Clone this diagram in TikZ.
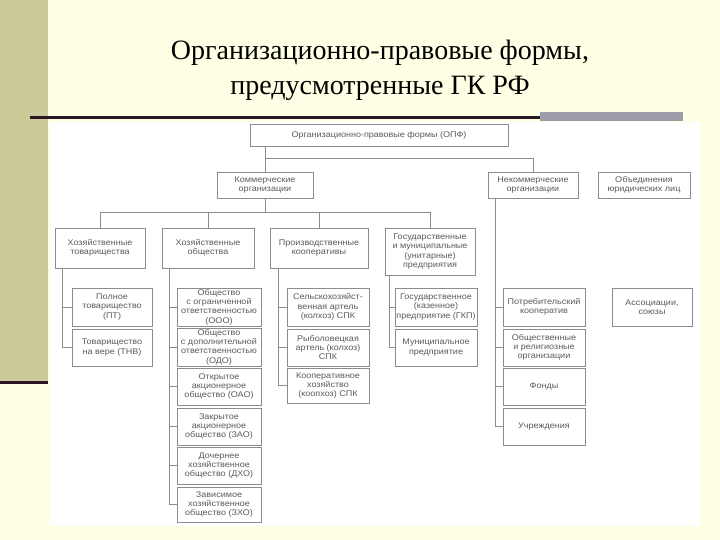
\documentclass[tikz,border=0pt]{standalone}
\usepackage{fontspec}
\setmainfont{Liberation Serif}
\newfontfamily\lsans[FakeStretch=1.1]{Liberation Sans}
\definecolor{bg}{HTML}{FFFFE6}
\definecolor{olivec}{HTML}{CBCB99}
\definecolor{darkl}{HTML}{2A1522}
\definecolor{barg}{HTML}{9C9CAA}
\definecolor{boxc}{HTML}{8C8C8C}
\definecolor{txt}{HTML}{5A5A5A}
\begin{document}
\begin{tikzpicture}[x=1pt,y=-1pt,
  bx/.style 2 args={draw=boxc, line width=0.5pt, fill=white, align=center,
    font=\lsans\fontsize{8.2}{9.3}\selectfont, text=txt, inner sep=0.5pt,
    minimum width=#1pt, minimum height=#2pt},
  cn/.style={draw=boxc, line width=0.6pt},
  ttl/.style={align=center, font=\fontsize{28}{35}\selectfont, text=black}]
\useasboundingbox (0,0) rectangle (720,540);
% background
\fill[bg] (0,0) rectangle (720,540);
\fill[olivec] (0,0) rectangle (48,382);
\draw[darkl, line width=3pt] (0,382) -- (48,382);
\fill[white] (50,122) rectangle (700,526);
\draw[darkl, line width=3pt] (30,118) -- (545,118);
\fill[barg] (540,112) rectangle (683,121);
% title
\node[ttl] (title) at (380,70) {Организационно-правовые формы,\\предусмотренные ГК РФ};
% level 1-2
\node[bx={258}{22}] (opf) at (379,135) {Организационно-правовые формы (ОПФ)};
\node[bx={96}{26}] (kom) at (265,185) {Коммерческие\\организации};
\node[bx={90}{26}] (nekom) at (533,185) {Некоммерческие\\организации};
\node[bx={92}{26}] (obj) at (644,185) {Объединения\\юридических лиц};
% level 3
\node[bx={90}{40}] (ht) at (100,248) {Хозяйственные\\товарищества};
\node[bx={92}{40}] (ho) at (208,248) {Хозяйственные\\общества};
\node[bx={98}{40}] (pk) at (319,248) {Производственные\\кооперативы};
\node[bx={90}{47}] (gm) at (430,251.5) {Государственные\\и муниципальные\\(унитарные)\\предприятия};
% level 4
\node[bx={80}{38}] (pt) at (112,307) {Полное\\товарищество\\(ПТ)};
\node[bx={80}{37}] (tnv) at (112,347.5) {Товарищество\\на вере (ТНВ)};
\node[bx={84}{38}] (ooo) at (219,307) {Общество\\с ограниченной\\ответственностью\\(ООО)};
\node[bx={84}{38}] (odo) at (219,347) {Общество\\с дополнительной\\ответственностью\\(ОДО)};
\node[bx={84}{37}] (oao) at (219,386.5) {Открытое\\акционерное\\общество (ОАО)};
\node[bx={84}{37}] (zao) at (219,426.5) {Закрытое\\акционерное\\общество (ЗАО)};
\node[bx={84}{37}] (dho) at (219,465.5) {Дочернее\\хозяйственное\\общество (ДХО)};
\node[bx={84}{35}] (zho) at (219,504.5) {Зависимое\\хозяйственное\\общество (ЗХО)};
\node[bx={82}{38}] (spk) at (328,307) {Сельскохозяйст-\\венная артель\\(колхоз) СПК};
\node[bx={82}{37}] (rpk) at (328,347.5) {Рыболовецкая\\артель (колхоз)\\СПК};
\node[bx={82}{35}] (skh) at (328,385.5) {Кооперативное\\хозяйство\\(коопхоз) СПК};
\node[bx={82}{38}] (gkp) at (436,307) {Государственное\\(казенное)\\предприятие (ГКП)};
\node[bx={82}{37}] (mp) at (436,347.5) {Муниципальное\\предприятие};
\node[bx={82}{38}] (potr) at (544,307) {Потребительский\\кооператив};
\node[bx={82}{37}] (obsh) at (544,347.5) {Общественные\\и религиозные\\организации};
\node[bx={82}{37}] (fond) at (544,386.5) {Фонды};
\node[bx={82}{37}] (uchr) at (544,426.5) {Учреждения};
\node[bx={80}{38}] (assoc) at (652,307) {Ассоциации,\\союзы};
% connectors
\coordinate (b1) at (0,158);
\coordinate (b2) at (0,212);
\draw[cn] (opf.south -| kom.north) -- (kom.north |- b1) -| (nekom.north);
\draw[cn] (kom.north |- b1) -- (kom.north);
\draw[cn] (kom.south) -- (kom.south |- b2);
\draw[cn] (ht.north |- b2) -- (gm.north |- b2);
\foreach \n in {ht,ho,pk,gm} \draw[cn] (\n.north |- b2) -- (\n.north);
\coordinate (tht) at (62,268);
\coordinate (tho) at (169,268);
\coordinate (tpk) at (278,268);
\coordinate (tgm) at (389,275);
\coordinate (tnk) at (495,198);
\foreach \c in {pt,tnv} \draw[cn] (tht) |- (\c.west);
\foreach \c in {ooo,odo,oao,zao,dho,zho} \draw[cn] (tho) |- (\c.west);
\foreach \c in {spk,rpk,skh} \draw[cn] (tpk) |- (\c.west);
\foreach \c in {gkp,mp} \draw[cn] (tgm) |- (\c.west);
\foreach \c in {potr,obsh,fond,uchr} \draw[cn] (tnk) |- (\c.west);
\end{tikzpicture}
\end{document}
